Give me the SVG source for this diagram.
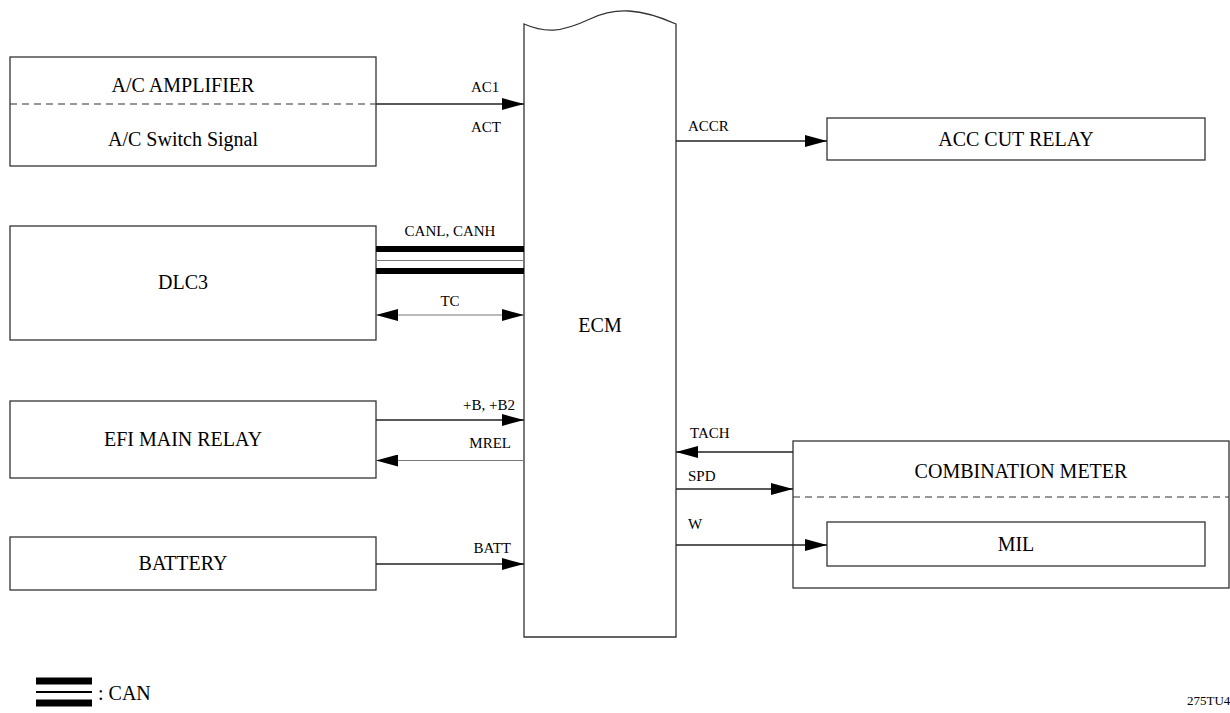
<svg xmlns="http://www.w3.org/2000/svg" width="1230" height="713" viewBox="0 0 1230 713">
<style>
.box{fill:#fff;stroke:#333;stroke-width:1.3}
.dash{stroke:#333;stroke-width:1.2;stroke-dasharray:7,5;fill:none}
.ln{stroke:#222;stroke-width:1.3;fill:none}
.thin{stroke:#777;stroke-width:1.2;fill:none}
.can{stroke:#000;stroke-width:6;fill:none}
.t{font-family:"Liberation Serif","Times New Roman",serif;font-size:20px;fill:#000;text-anchor:middle}
.s{font-family:"Liberation Serif","Times New Roman",serif;font-size:15px;fill:#000}
.st{text-anchor:start}
.en{text-anchor:end}
.mid{text-anchor:middle}
</style>
<defs>
<marker id="ah" viewBox="0 0 22 12" refX="22" refY="6" markerWidth="22" markerHeight="12" markerUnits="userSpaceOnUse" orient="auto-start-reverse">
<path d="M0,0 L22,6 L0,12 Z" fill="#000"/>
</marker>
</defs>
<rect width="1230" height="713" fill="#fff"/>
<g id="ecm">
<path class="box" d="M524,637 L524,24 C545,33 560,33 590,19 C615,7 640,8 676,24 L676,637 Z"/>
<text class="t" x="600" y="332">ECM</text>
</g>
<g id="ac-amplifier">
<rect class="box" x="10" y="57" width="366" height="109"/>
<line class="dash" x1="10" y1="104" x2="376" y2="104"/>
<text class="t" x="183" y="92">A/C AMPLIFIER</text>
<text class="t" x="183" y="146">A/C Switch Signal</text>
</g>
<g id="acc-cut-relay">
<rect class="box" x="827" y="118" width="378" height="42"/>
<text class="t" x="1016" y="146">ACC CUT RELAY</text>
</g>
<g id="dlc3">
<rect class="box" x="10" y="226" width="366" height="114"/>
<text class="t" x="183" y="289">DLC3</text>
</g>
<g id="efi-main-relay">
<rect class="box" x="10" y="401" width="366" height="77"/>
<text class="t" x="183" y="446">EFI MAIN RELAY</text>
</g>
<g id="battery">
<rect class="box" x="10" y="537" width="366" height="53"/>
<text class="t" x="183" y="570">BATTERY</text>
</g>
<g id="combination-meter">
<rect class="box" x="793" y="441" width="436" height="147"/>
<line class="dash" x1="793" y1="497" x2="1229" y2="497"/>
<text class="t" x="1021" y="478">COMBINATION METER</text>
</g>
<g id="mil">
<rect class="box" x="827" y="522" width="378" height="44"/>
<text class="t" x="1016" y="551">MIL</text>
</g>
<g id="connectors">
<line class="ln" x1="376" y1="104" x2="524" y2="104" marker-end="url(#ah)"/>
<text class="s" x="471" y="92">AC1</text>
<text class="s" x="471" y="132">ACT</text>
<line class="ln" x1="676" y1="141" x2="827" y2="141" marker-end="url(#ah)"/>
<text class="s" x="688" y="131">ACCR</text>
<line class="can" x1="376" y1="249" x2="524" y2="249"/>
<line class="thin" x1="376" y1="260.5" x2="524" y2="260.5"/>
<line class="can" x1="376" y1="271" x2="524" y2="271"/>
<text class="s mid" x="450" y="236">CANL, CANH</text>
<line class="thin" x1="376" y1="315" x2="524" y2="315" marker-start="url(#ah)" marker-end="url(#ah)"/>
<text class="s mid" x="450" y="306">TC</text>
<line class="ln" x1="376" y1="420" x2="524" y2="420" marker-end="url(#ah)"/>
<text class="s en" x="515" y="410">+B, +B2</text>
<line class="thin" x1="524" y1="460.5" x2="376" y2="460.5" marker-end="url(#ah)"/>
<text class="s en" x="511" y="448">MREL</text>
<line class="ln" x1="376" y1="564" x2="524" y2="564" marker-end="url(#ah)"/>
<text class="s en" x="511" y="553">BATT</text>
<line class="ln" x1="793" y1="452" x2="676" y2="452" marker-end="url(#ah)"/>
<text class="s" x="690" y="438">TACH</text>
<line class="ln" x1="676" y1="489" x2="793" y2="489" marker-end="url(#ah)"/>
<text class="s" x="688" y="481">SPD</text>
<line class="ln" x1="676" y1="545" x2="827" y2="545" marker-end="url(#ah)"/>
<text class="s" x="688" y="529">W</text>
</g>
<g id="legend">
<line class="can" x1="36" y1="681" x2="92" y2="681" style="stroke-width:7"/>
<line x1="36" y1="692" x2="92" y2="692" stroke="#000" stroke-width="2"/>
<line class="can" x1="36" y1="703" x2="92" y2="703" style="stroke-width:7"/>
<text class="t st" x="98" y="700">: CAN</text>
<text class="s" x="1187" y="705" style="font-size:13px">275TU4</text>
</g>
</svg>
